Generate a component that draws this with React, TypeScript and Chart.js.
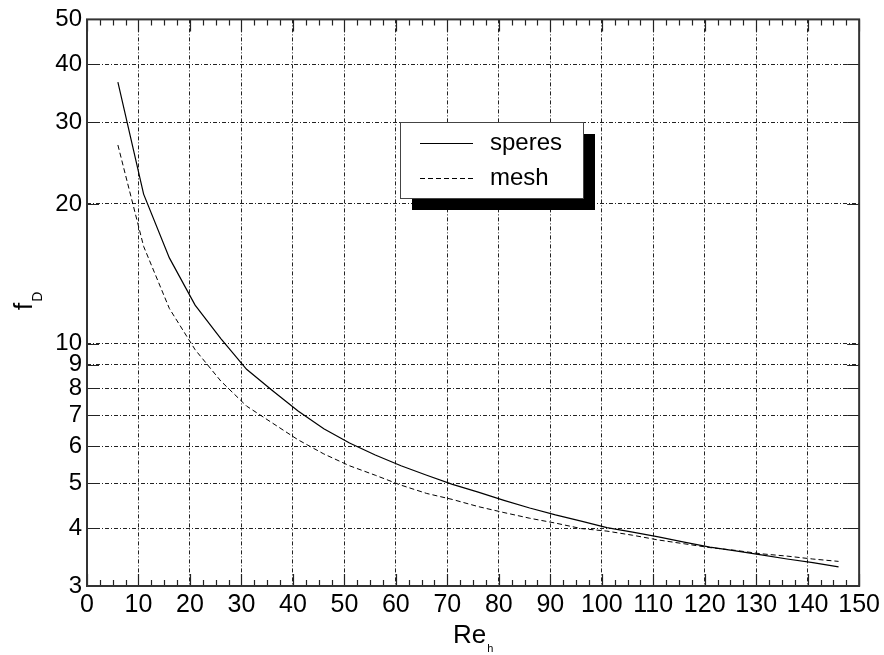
import React, { useEffect, useRef } from "react";
import { Chart, registerables } from "chart.js";

Chart.register(...registerables);

const reValues = [6, 11, 16, 21, 26, 31, 36, 41, 46, 51, 56, 61, 66, 71, 76, 81, 86, 91, 96, 101, 106, 111, 116, 121, 126, 131, 136, 141, 146];
const spheresValues = [36.6, 21.0, 15.3, 12.1, 10.25, 8.8, 7.92, 7.15, 6.55, 6.1, 5.75, 5.45, 5.2, 4.97, 4.78, 4.59, 4.42, 4.27, 4.14, 4.01, 3.92, 3.83, 3.73, 3.64, 3.57, 3.5, 3.43, 3.37, 3.3];
const meshValues = [26.8, 16.2, 11.9, 9.7, 8.3, 7.33, 6.74, 6.2, 5.78, 5.45, 5.2, 4.95, 4.75, 4.61, 4.45, 4.32, 4.2, 4.1, 3.99, 3.94, 3.86, 3.77, 3.7, 3.63, 3.58, 3.52, 3.48, 3.43, 3.39];
const yTickValues = [3, 4, 5, 6, 7, 8, 9, 10, 20, 30, 40, 50];
const seriesLabels = ["speres", "mesh"];
const xTitle = "Re";
const xTitleSub = "h";
const yTitle = "f";
const yTitleSub = "D";

const FONT = "'Liberation Sans', Arial, sans-serif";

const framePlugin = {
  id: "frame",
  afterDraw(chart: any) {
    const { ctx, chartArea } = chart;
    const { left, right, top, bottom } = chartArea;
    const xs = chart.scales.x;
    const ys = chart.scales.y;
    ctx.save();
    // ticks
    ctx.strokeStyle = "#222";
    ctx.lineWidth = 1.2;
    ctx.beginPath();
    for (let v = 0; v <= 150.001; v += 2.5) {
      const px = Math.round(xs.getPixelForValue(v)) + 0.5;
      const len = Math.abs(v % 10) < 0.01 ? 12 : 6;
      ctx.moveTo(px, bottom);
      ctx.lineTo(px, bottom - len);
      ctx.moveTo(px, top);
      ctx.lineTo(px, top + len);
    }
    for (const v of yTickValues) {
      const py = Math.round(ys.getPixelForValue(v)) + 0.5;
      ctx.moveTo(left, py);
      ctx.lineTo(left + 12, py);
      ctx.moveTo(right, py);
      ctx.lineTo(right - 12, py);
    }
    ctx.stroke();
    // frame
    ctx.strokeStyle = "#333";
    ctx.lineWidth = 2;
    ctx.strokeRect(left, top, right - left, bottom - top);

    // axis titles
    ctx.fillStyle = "#000";
    ctx.textBaseline = "alphabetic";
    ctx.textAlign = "left";
    ctx.font = `26px ${FONT}`;
    const w1 = ctx.measureText(xTitle).width;
    ctx.font = `11px ${FONT}`;
    const w2 = ctx.measureText(xTitleSub).width;
    const cx = (left + right) / 2;
    const sx = cx - (w1 + w2 + 1) / 2;
    ctx.font = `26px ${FONT}`;
    ctx.fillText(xTitle, sx, 643);
    ctx.font = `11px ${FONT}`;
    ctx.fillText(xTitleSub, sx + w1 + 1, 652);

    ctx.save();
    ctx.translate(32, 310);
    ctx.rotate(-Math.PI / 2);
    ctx.font = `26px ${FONT}`;
    const fw = ctx.measureText(yTitle).width;
    ctx.fillText(yTitle, 0, 0);
    ctx.font = `14px ${FONT}`;
    ctx.fillText(yTitleSub, fw + 1, 10);
    ctx.restore();

    // legend
    const bx = 400, by = 122, bw = 183, bh = 76;
    ctx.fillStyle = "#000";
    ctx.fillRect(bx + 12, by + 12, bw, bh);
    ctx.fillStyle = "#fff";
    ctx.fillRect(bx, by, bw, bh);
    ctx.strokeStyle = "#444";
    ctx.lineWidth = 1;
    ctx.strokeRect(bx + 0.5, by + 0.5, bw, bh);
    const rows = [143, 178];
    chart.data.datasets.forEach((ds: any, i: number) => {
      const y = rows[i] + 0.5;
      ctx.strokeStyle = "#000";
      ctx.lineWidth = 1;
      ctx.setLineDash(ds.borderDash || []);
      ctx.beginPath();
      ctx.moveTo(420, y);
      ctx.lineTo(473, y);
      ctx.stroke();
      ctx.setLineDash([]);
      ctx.fillStyle = "#000";
      ctx.font = `24px ${FONT}`;
      ctx.textBaseline = "middle";
      ctx.fillText(ds.label, 490, rows[i]);
    });
    ctx.restore();
  },
};

export default function App() {
  const ref = useRef<HTMLCanvasElement | null>(null);
  useEffect(() => {
    document.body.style.margin = "0";
    if (!ref.current) return;
    const chart = new Chart(ref.current, {
      type: "line",
      data: {
        datasets: [
          {
            label: seriesLabels[0],
            data: reValues.map((x, i) => ({ x, y: spheresValues[i] })),
            borderColor: "#000",
            borderWidth: 1.2,
            pointRadius: 0,
            fill: false,
            tension: 0,
          },
          {
            label: seriesLabels[1],
            data: reValues.map((x, i) => ({ x, y: meshValues[i] })),
            borderColor: "#000",
            borderWidth: 1,
            borderDash: [5, 3],
            pointRadius: 0,
            fill: false,
            tension: 0,
          },
        ],
      },
      options: {
        animation: false,
        responsive: false,
        devicePixelRatio: 1,
        layout: { padding: { left: 0, top: 16, right: 24, bottom: 0 } },
        plugins: { legend: { display: false }, tooltip: { enabled: false } },
        scales: {
          x: {
            type: "linear",
            min: 0,
            max: 150,
            ticks: {
              stepSize: 10,
              color: "#000",
              font: { family: FONT, size: 25 },
              padding: 4,
              maxRotation: 0,
              autoSkip: false,
            },
            grid: { color: "#222", lineWidth: 1, drawTicks: false },
            border: { display: false, dash: [4, 2, 1, 2] },
            afterFit: (s: any) => {
              s.height = 69;
            },
          },
          y: {
            type: "logarithmic",
            min: 3,
            max: 50,
            afterBuildTicks: (s: any) => {
              s.ticks = yTickValues.map((v) => ({ value: v }));
            },
            ticks: {
              color: "#000",
              font: { family: FONT, size: 24 },
              padding: 5,
              autoSkip: false,
              callback: (v: any) => String(v),
            },
            grid: { color: "#222", lineWidth: 1, drawTicks: false },
            border: { display: false, dash: [4, 2, 1, 2] },
            afterFit: (s: any) => {
              s.width = 87;
            },
          },
        },
      },
      plugins: [framePlugin],
    });
    return () => chart.destroy();
  }, []);
  return (
    <div style={{ position: "absolute", left: 0, top: 0 }}>
      <canvas ref={ref} width={884} height={655} style={{ width: 884, height: 655, display: "block" }} />
    </div>
  );
}
